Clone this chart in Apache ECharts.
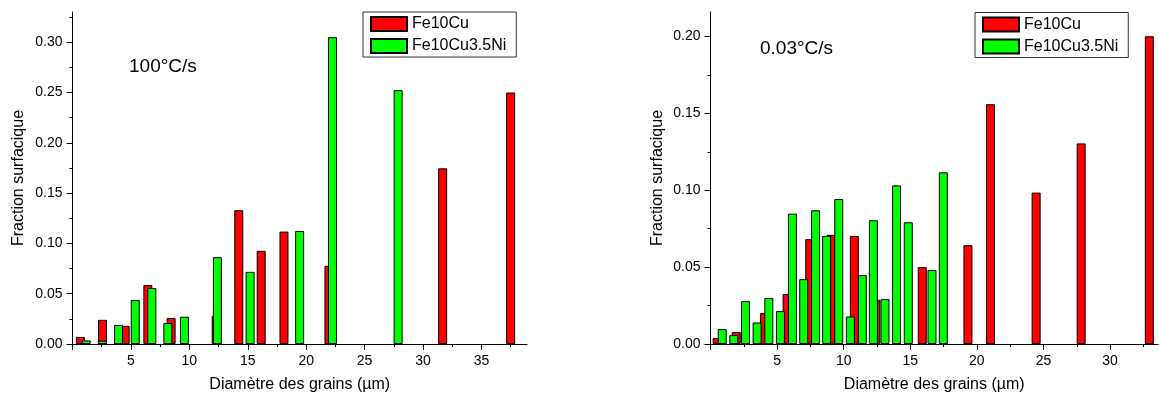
<!DOCTYPE html>
<html>
<head>
<meta charset="utf-8">
<script src="https://cdn.jsdelivr.net/npm/echarts@6/dist/echarts.min.js"></script>
<style>html,body{margin:0;padding:0;background:#fff}#c{width:1159px;height:398px}</style>
</head>
<body>
<div id="c"></div>
<script>
// ---- Data ----
const seriesNames = ['Fe10Cu', 'Fe10Cu3.5Ni'];
const rateLabels = ['100°C/s', '0.03°C/s'];
const xTitle = 'Diamètre des grains (µm)';
const yTitle = 'Fraction surfacique';

// 100°C/s panel
const cu100X = [0.67, 2.57, 4.51, 6.45, 8.44, 12.3, 14.23, 16.15, 18.1, 21.95, 31.68, 37.5];
const cu100Y = [0.007, 0.024, 0.018, 0.0585, 0.0258, 0.028, 0.133, 0.0926, 0.1117, 0.0777, 0.1746, 0.250];
const ni100X = [1.17, 2.55, 3.94, 5.37, 6.79, 8.16, 9.58, 12.4, 15.2, 19.44, 22.25, 27.87];
const ni100Y = [0.0036, 0.0033, 0.0189, 0.0437, 0.0556, 0.0208, 0.0271, 0.0863, 0.0717, 0.1124, 0.305, 0.2523];

// 0.03°C/s panel
const cu003X = [0.5, 1.93, 4.05, 5.75, 7.45, 9.05, 10.8, 12.41, 15.9, 19.33, 21.02, 24.45, 27.83, 32.95];
const cu003Y = [0.0039, 0.0078, 0.0201, 0.0325, 0.0682, 0.071, 0.0703, 0.0288, 0.05, 0.0643, 0.156, 0.0985, 0.1305, 0.2002];
const ni003X = [0.88, 1.75, 2.63, 3.5, 4.38, 5.25, 6.15, 7.0, 7.89, 8.72, 9.63, 10.5, 11.4, 12.23, 13.1, 13.97, 14.85, 16.63, 17.48];
const ni003Y = [0.0097, 0.0058, 0.0279, 0.014, 0.0299, 0.0214, 0.0848, 0.0422, 0.087, 0.0703, 0.0943, 0.0179, 0.0448, 0.0805, 0.0292, 0.1032, 0.0792, 0.0482, 0.1117];

// tick labels
const xTicks100 = [5, 10, 15, 20, 25, 30, 35];
const xTicks003 = [5, 10, 15, 20, 25, 30];
const yTicks100 = [0, 0.05, 0.10, 0.15, 0.20, 0.25, 0.30];
const yTicks003 = [0, 0.05, 0.10, 0.15, 0.20];

// ---- Chart ----
const FONT = '"Liberation Sans", Arial, sans-serif';
const zip = (xs, ys) => xs.map((x, i) => [x, ys[i]]);
const half = (arr, step) => arr.map(v => +(v + step / 2).toFixed(4));

function xAxes(gridIndex, max, ticks) {
  const major = [0].concat(ticks);
  const minor = half([0].concat(ticks), 5).filter(v => v < max);
  return [
    {
      type: 'value', gridIndex, min: 0, max, position: 'bottom',
      name: xTitle, nameLocation: 'middle', nameGap: 33,
      nameTextStyle: { fontFamily: FONT, fontSize: 16, color: '#000' },
      axisLine: { show: true, onZero: false, lineStyle: { color: '#000', width: 1 } },
      axisTick: { show: true, length: 6, customValues: major, lineStyle: { color: '#000' } },
      axisLabel: { customValues: ticks, margin: 10, fontFamily: FONT, fontSize: 14, color: '#000' },
      splitLine: { show: false }
    },
    {
      type: 'value', gridIndex, min: 0, max, position: 'bottom',
      axisLine: { show: false, onZero: false },
      axisTick: { show: true, length: 3, customValues: minor, lineStyle: { color: '#000' } },
      axisLabel: { show: false },
      splitLine: { show: false }
    }
  ];
}
function yAxes(gridIndex, max, ticks, nameGap) {
  const minor = half(ticks, 0.05).filter(v => v < max);
  return [
    {
      type: 'value', gridIndex, min: 0, max, position: 'left',
      name: yTitle, nameLocation: 'middle', nameGap,
      nameTextStyle: { fontFamily: FONT, fontSize: 16, color: '#000' },
      axisLine: { show: true, onZero: false, lineStyle: { color: '#000', width: 1 } },
      axisTick: { show: true, length: 6, customValues: ticks, lineStyle: { color: '#000' } },
      axisLabel: { customValues: ticks, margin: 10, fontFamily: FONT, fontSize: 14, color: '#000',
                   formatter: v => Number(v).toFixed(2) },
      splitLine: { show: false }
    },
    {
      type: 'value', gridIndex, min: 0, max, position: 'left',
      axisLine: { show: false, onZero: false },
      axisTick: { show: true, length: 3, customValues: minor, lineStyle: { color: '#000' } },
      axisLabel: { show: false },
      splitLine: { show: false }
    }
  ];
}
function bars(name, color, data, axisIdx) {
  return {
    type: 'bar', name, data, xAxisIndex: axisIdx, yAxisIndex: axisIdx,
    barWidth: 9, barGap: '-100%',
    itemStyle: { color, borderColor: '#000', borderWidth: 1 },
    emphasis: { disabled: true }, animation: false
  };
}
function legend(left, top) {
  return {
    data: seriesNames, orient: 'vertical', left, top, icon: 'rect',
    itemWidth: 36, itemHeight: 14, itemGap: 6,
    padding: [4, 10, 3, 7], borderColor: '#333', borderWidth: 1,
    textStyle: { fontFamily: FONT, fontSize: 16, color: '#000', lineHeight: 14 },
    selectedMode: false
  };
}

const chart = echarts.init(document.getElementById('c'), null, { renderer: 'canvas' });
chart.setOption({
  backgroundColor: '#fff',
  animation: false,
  grid: [
    { left: 72.5, top: 12, width: 454.5, height: 332.5 },
    { left: 710.5, top: 12, width: 447.5, height: 332.5 }
  ],
  xAxis: [...xAxes(0, 38.9, xTicks100), ...xAxes(1, 33.6, xTicks003)],
  yAxis: [...yAxes(0, 0.33, yTicks100, 46), ...yAxes(1, 0.216, yTicks003, 45)],
  legend: [legend(363, 12), legend(975, 12.5)],
  series: [
    bars(seriesNames[0], '#ff0000', zip(cu100X, cu100Y), 0),
    bars(seriesNames[1], '#00ff00', zip(ni100X, ni100Y), 0),
    bars(seriesNames[0], '#ff0000', zip(cu003X, cu003Y), 2),
    bars(seriesNames[1], '#00ff00', zip(ni003X, ni003Y), 2)
  ],
  graphic: [
    { type: 'text', left: 129, top: 57, style: { text: rateLabels[0], font: '19px ' + FONT, fill: '#000' } },
    { type: 'text', left: 760, top: 39, style: { text: rateLabels[1], font: '19px ' + FONT, fill: '#000' } }
  ]
});
</script>
</body>
</html>
